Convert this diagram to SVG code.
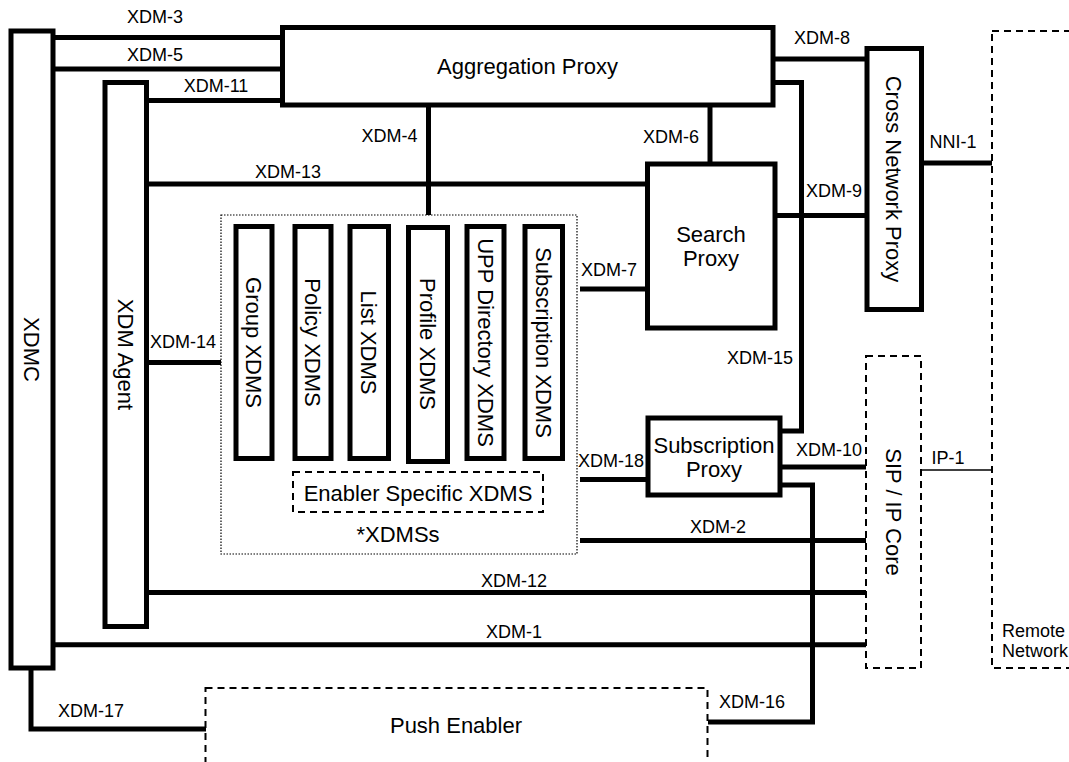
<svg xmlns="http://www.w3.org/2000/svg" width="1069" height="762" viewBox="0 0 1069 762">
<style>
.box{fill:#fff;stroke:#000;stroke-width:5}
.dash{fill:none;stroke:#000;stroke-width:2;stroke-dasharray:7 5}
.dot{fill:none;stroke:#000;stroke-width:1.2;stroke-dasharray:1.5 1.5}
.conn{fill:none;stroke:#000;stroke-width:5}
.thin{fill:none;stroke:#000;stroke-width:1.5}
text{font-family:"Liberation Sans",Arial,sans-serif;fill:#000}
.lbl{font-size:18px;text-anchor:middle}
.nl{font-size:22px;text-anchor:middle}
</style>
<rect width="1069" height="762" fill="#fff"/>
<g id="connectors">
<path class="conn" d="M55 37.5 H282"/>
<path class="conn" d="M55 69 H282"/>
<path class="conn" d="M149 100.5 H282"/>
<path class="conn" d="M149 184 H647"/>
<path class="conn" d="M428.5 107 V215"/>
<path class="conn" d="M710 107 V164"/>
<path class="conn" d="M775 59 H867"/>
<path class="conn" d="M775 82.5 H801.5 V431 H780"/>
<path class="conn" d="M775 215.5 H867"/>
<path class="conn" d="M921.5 163 H992"/>
<path class="conn" d="M580 289 H647"/>
<path class="conn" d="M149 362.5 H221"/>
<path class="conn" d="M580 479.5 H648"/>
<path class="conn" d="M780 467 H866"/>
<path class="thin" d="M921 470 H992"/>
<path class="conn" d="M580 540.5 H866"/>
<path class="conn" d="M149 592.5 H866"/>
<path class="conn" d="M55 644.7 H866"/>
<path class="conn" d="M780 485 H812.5 V722 H708"/>
<path class="conn" d="M31 668 V729 H206"/>
<text class="lbl" x="155" y="23">XDM-3</text>
<text class="lbl" x="155" y="61">XDM-5</text>
<text class="lbl" x="216" y="92">XDM-11</text>
<text class="lbl" x="288" y="178">XDM-13</text>
<text class="lbl" x="389.5" y="142">XDM-4</text>
<text class="lbl" x="671" y="143">XDM-6</text>
<text class="lbl" x="822" y="44">XDM-8</text>
<text class="lbl" x="834" y="197">XDM-9</text>
<text class="lbl" x="953" y="148">NNI-1</text>
<text class="lbl" x="609" y="276">XDM-7</text>
<text class="lbl" x="183" y="348">XDM-14</text>
<text class="lbl" x="760" y="364">XDM-15</text>
<text class="lbl" x="611" y="467">XDM-18</text>
<text class="lbl" x="829" y="456">XDM-10</text>
<text class="lbl" x="948" y="464">IP-1</text>
<text class="lbl" x="718" y="532.5">XDM-2</text>
<text class="lbl" x="514" y="587">XDM-12</text>
<text class="lbl" x="514" y="638">XDM-1</text>
<text class="lbl" x="752" y="708">XDM-16</text>
<text class="lbl" x="91" y="717">XDM-17</text>
</g>
<g id="xdmc">
<rect class="box" x="11" y="31" width="42" height="637"/>
<text class="nl" transform="translate(32 349.5) rotate(90)" y="7.9">XDMC</text>
</g>
<g id="xdm-agent">
<rect class="box" x="105" y="82.5" width="41.5" height="544"/>
<text class="nl" transform="translate(125.5 354.5) rotate(90)" y="7.9">XDM Agent</text>
</g>
<g id="aggregation-proxy">
<rect class="box" x="282.5" y="27.5" width="490.5" height="77.5"/>
<text class="nl" x="527.5" y="74">Aggregation Proxy</text>
</g>
<g id="search-proxy">
<rect class="box" x="647.5" y="164" width="127.5" height="164"/>
<text class="nl" x="711" y="242">Search</text>
<text class="nl" x="711" y="266">Proxy</text>
</g>
<g id="cross-network-proxy">
<rect class="box" x="867" y="48.5" width="54.5" height="261"/>
<text class="nl" transform="translate(894 179) rotate(90)" y="7.9">Cross Network Proxy</text>
</g>
<g id="subscription-proxy">
<rect class="box" x="648" y="418" width="132" height="77"/>
<text class="nl" x="714" y="452.5">Subscription</text>
<text class="nl" x="714" y="476.5">Proxy</text>
</g>
<g id="sip-ip-core">
<rect class="dash" x="866" y="356" width="55" height="312"/>
<text class="nl" transform="translate(893.5 512) rotate(90)" y="7.9">SIP / IP Core</text>
</g>
<g id="remote-network">
<rect class="dash" x="992" y="31" width="100" height="637"/>
<text x="1002" y="637" style="font-size:18px">Remote</text>
<text x="1002" y="657" style="font-size:18px">Network</text>
</g>
<g id="push-enabler">
<rect class="dash" x="205.5" y="688" width="502" height="100"/>
<text class="nl" x="456" y="733">Push Enabler</text>
</g>
<g id="xdmss">
<rect class="dot" x="221" y="215" width="356" height="339"/>
<text class="nl" x="398" y="542">*XDMSs</text>
</g>
<g id="group-xdms">
<rect class="box" x="236" y="226.5" width="36" height="232"/>
<text class="nl" transform="translate(254 342.5) rotate(90)" y="7.9">Group XDMS</text>
</g>
<g id="policy-xdms">
<rect class="box" x="295" y="226.5" width="36" height="232"/>
<text class="nl" transform="translate(313 342.5) rotate(90)" y="7.9">Policy XDMS</text>
</g>
<g id="list-xdms">
<rect class="box" x="350" y="226.5" width="38.5" height="232"/>
<text class="nl" transform="translate(369.2 342.5) rotate(90)" y="7.9">List XDMS</text>
</g>
<g id="profile-xdms">
<rect class="box" x="408.5" y="227.5" width="39" height="234"/>
<text class="nl" transform="translate(428 344) rotate(90)" y="7.9">Profile XDMS</text>
</g>
<g id="upp-directory-xdms">
<rect class="box" x="467" y="226.5" width="37" height="232"/>
<text class="nl" transform="translate(485.5 342.5) rotate(90)" y="7.9">UPP Directory XDMS</text>
</g>
<g id="subscription-xdms">
<rect class="box" x="525" y="226.5" width="37.5" height="232"/>
<text class="nl" transform="translate(543.7 342.5) rotate(90)" y="7.9">Subscription XDMS</text>
</g>
<g id="enabler-specific-xdms">
<rect class="dash" x="293" y="472" width="250" height="40"/>
<text class="nl" x="418" y="501">Enabler Specific XDMS</text>
</g>
</svg>
